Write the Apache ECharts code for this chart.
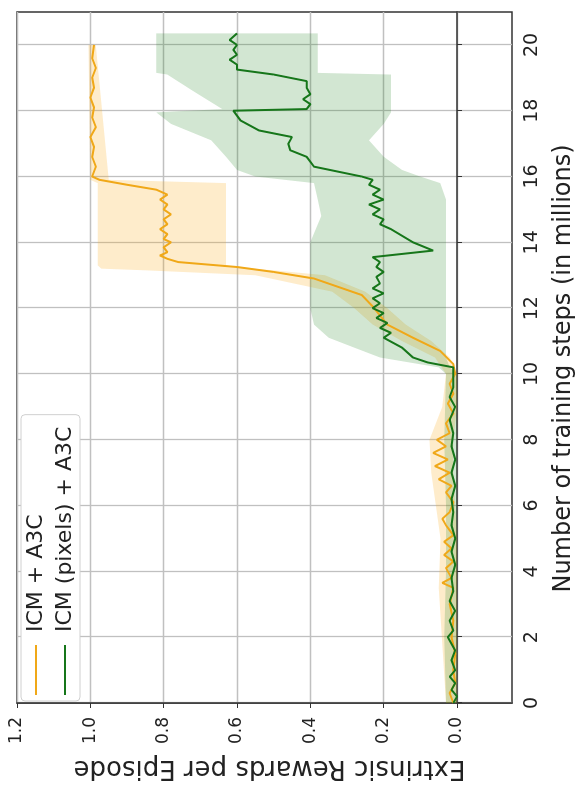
<!DOCTYPE html>
<html>
<head>
<meta charset="utf-8">
<script src="https://cdn.jsdelivr.net/npm/echarts@6/dist/echarts.min.js"></script>
<style>
  html, body { margin: 0; padding: 0; background: #fff; overflow: hidden; }
  /* the figure is drawn landscape and turned a quarter turn counter-clockwise */
  #chart {
    position: absolute; left: 0; top: 0;
    width: 791px; height: 579px;
    transform-origin: 0 0;
    transform: translateY(791px) rotate(-90deg);
  }
</style>
</head>
<body>
<div id="chart"></div>
<script>
// ticks
var xTicks = [0, 2, 4, 6, 8, 10, 12, 14, 16, 18, 20]
var yTicks = [0, 0.2, 0.4, 0.6, 0.8, 1.0, 1.2]

// ICM + A3C : [step (millions), reward]
var icmLine = [
  [0, 0.01], [0.3, 0.02], [0.6, 0.005], [1.0, 0.01], [1.5, 0.005], [2.0, 0.015], [2.5, 0.01],
  [3.0, 0.02], [3.5, 0.01], [3.65, 0.04], [3.8, 0.015], [4.1, 0.03], [4.3, 0.01], [4.5, 0.035],
  [4.7, 0.015], [4.9, 0.035], [5.1, 0.01], [5.4, 0.03], [5.6, 0.04], [5.8, 0.02], [6.1, 0.01],
  [6.4, 0.03], [6.6, 0.015], [6.8, 0.05], [7.0, 0.02], [7.2, 0.06], [7.4, 0.025], [7.6, 0.065],
  [7.8, 0.03], [8.0, 0.055], [8.2, 0.02], [8.5, 0.03], [8.8, 0.01], [9.1, 0.025], [9.4, 0.01],
  [9.7, 0.02], [10.0, 0.005], [10.3, 0.01], [10.7, 0.046], [11.1, 0.12], [11.5, 0.19],
  [12.05, 0.23], [12.4, 0.26], [12.9, 0.39], [13.1, 0.5], [13.25, 0.6], [13.4, 0.76],
  [13.5, 0.79], [13.6, 0.81], [13.7, 0.79], [13.85, 0.8], [14.0, 0.78], [14.1, 0.8],
  [14.25, 0.79], [14.4, 0.81], [14.55, 0.79], [14.7, 0.8], [14.85, 0.78], [15.0, 0.8],
  [15.15, 0.79], [15.3, 0.81], [15.45, 0.79], [15.6, 0.82], [15.75, 0.9], [15.9, 0.975],
  [16.0, 0.995], [16.3, 0.985], [16.6, 0.995], [16.9, 0.99], [17.2, 1.0], [17.5, 0.985],
  [17.8, 0.995], [18.1, 0.99], [18.4, 1.0], [18.7, 0.99], [19.0, 0.995], [19.3, 0.985],
  [19.6, 0.995], [20.0, 0.99]
]
// ICM + A3C band : [step, low, high]
var icmBand = [
  [0, 0.0, 0.03], [3.5, 0.0, 0.05], [5, 0.0, 0.045], [7, 0.01, 0.07], [8, 0.01, 0.075],
  [9, 0.0, 0.04], [10, 0.0, 0.03], [10.5, 0.02, 0.06], [11, 0.07, 0.15], [11.5, 0.14, 0.23],
  [12, 0.19, 0.28], [12.5, 0.25, 0.34], [13.0, 0.36, 0.55], [13.15, 0.5, 0.85],
  [13.2, 0.56, 0.97], [13.3, 0.63, 0.98], [15.8, 0.63, 0.98], [15.9, 0.95, 1.0],
  [20, 0.985, 1.005]
]

// ICM (pixels) + A3C : [step, reward]
var pixLine = [
  [0, 0.01], [0.2, 0.0], [0.4, 0.015], [0.6, 0.005], [0.8, 0.02], [1.0, 0.005], [1.3, 0.015],
  [1.6, 0.005], [1.9, 0.02], [2.0, 0.025], [2.2, 0.01], [2.5, 0.02], [2.8, 0.005], [3.1, 0.02],
  [3.4, 0.01], [3.8, 0.015], [4.2, 0.005], [4.6, 0.015], [5.0, 0.005], [5.4, 0.015], [5.8, 0.01],
  [6.2, 0.015], [6.6, 0.005], [7.0, 0.015], [7.4, 0.005], [7.8, 0.015], [8.2, 0.01], [8.6, 0.02],
  [9.0, 0.005], [9.3, 0.02], [9.6, 0.01], [10.0, 0.01], [10.2, 0.01], [10.35, 0.08],
  [10.5, 0.12], [10.8, 0.15], [11.1, 0.2], [11.25, 0.18], [11.4, 0.21], [11.55, 0.19],
  [11.7, 0.22], [11.85, 0.2], [12.0, 0.23], [12.15, 0.21], [12.3, 0.23], [12.45, 0.2],
  [12.6, 0.23], [12.75, 0.21], [12.95, 0.22], [13.1, 0.2], [13.25, 0.22], [13.4, 0.21],
  [13.55, 0.23], [13.75, 0.065], [14.0, 0.12], [14.4, 0.18], [14.55, 0.21], [14.7, 0.2],
  [14.85, 0.23], [15.0, 0.21], [15.15, 0.24], [15.3, 0.2], [15.45, 0.23], [15.6, 0.21],
  [15.75, 0.24], [15.9, 0.23], [16.0, 0.26], [16.3, 0.39], [16.6, 0.41], [16.8, 0.455],
  [17.0, 0.46], [17.2, 0.45], [17.4, 0.54], [17.7, 0.59], [18.0, 0.61], [18.05, 0.41],
  [18.2, 0.4], [18.35, 0.42], [18.5, 0.4], [18.7, 0.41], [18.9, 0.41], [19.1, 0.5],
  [19.25, 0.6], [19.4, 0.6], [19.55, 0.62], [19.7, 0.6], [19.85, 0.61], [20.0, 0.6],
  [20.15, 0.62], [20.35, 0.6]
]
// ICM (pixels) + A3C band : [step, low, high]
var pixBand = [
  [0, 0.0, 0.03], [2, 0.0, 0.035], [4, 0.0, 0.03], [6, 0.0, 0.03], [8, 0.0, 0.035],
  [10, 0.0, 0.03], [10.2, 0.02, 0.05], [10.5, 0.03, 0.21], [10.8, 0.03, 0.28],
  [11.1, 0.03, 0.35], [11.5, 0.03, 0.39], [12, 0.03, 0.4], [13, 0.03, 0.4], [14, 0.03, 0.4],
  [14.8, 0.03, 0.37], [15.3, 0.03, 0.38], [15.8, 0.046, 0.39], [16.0, 0.1, 0.55],
  [16.2, 0.15, 0.6], [16.6, 0.2, 0.63], [17.1, 0.24, 0.67], [17.6, 0.2, 0.78],
  [17.95, 0.18, 0.82], [18.05, 0.18, 0.64], [18.6, 0.18, 0.72], [19.1, 0.18, 0.79],
  [19.15, 0.38, 0.82], [20.35, 0.38, 0.82]
]

var chart = echarts.init(document.getElementById('chart'))

// shaded min/max band drawn as one polygon through the axis scales
function bandSeries(band, color) {
  return {
    type: 'custom',
    silent: true,
    data: band,
    encode: { x: 0, y: [1, 2] },
    renderItem: function (params, api) {
      if (params.dataIndex !== 0) return
      var top = band.map(function (d) { return api.coord([d[0], d[2]]) })
      var bottom = band.map(function (d) { return api.coord([d[0], d[1]]) }).reverse()
      return {
        type: 'polygon',
        shape: { points: top.concat(bottom) },
        style: { fill: color }
      }
    }
  }
}

var series = [
  bandSeries(icmBand, 'rgba(252,170,20,0.22)'),
  {
    name: 'ICM + A3C',
    type: 'line',
    symbol: 'none',
    lineStyle: { color: '#f0a818', width: 2 },
    itemStyle: { color: '#f0a818' },
    data: icmLine
  },
  bandSeries(pixBand, 'rgba(30,130,30,0.2)'),
  {
    name: 'ICM (pixels) + A3C',
    type: 'line',
    symbol: 'none',
    lineStyle: { color: '#16761a', width: 2 },
    itemStyle: { color: '#16761a' },
    data: pixLine
  }
]

chart.setOption({
  animation: false,
  textStyle: { fontFamily: 'DejaVu Sans' },
  grid: {
    left: 88, right: 12, top: 17, bottom: 67,
    show: true, borderColor: '#333', borderWidth: 1.5,
    outerBoundsMode: 'none'
  },
  legend: {
    orient: 'vertical',
    left: 90, top: 21,
    data: ['ICM + A3C', 'ICM (pixels) + A3C'],
    icon: 'rect',
    backgroundColor: '#fff',
    borderColor: '#d0d0d0', borderWidth: 1, borderRadius: 4,
    padding: [4, 12, 4, 6],
    itemGap: 7, itemWidth: 50, itemHeight: 2,
    textStyle: { fontSize: 22, color: '#222', fontFamily: 'DejaVu Sans', padding: [0, 0, 0, 8] }
  },
  xAxis: {
    type: 'value', min: 0, max: 21,
    name: 'Number of training steps (in millions)',
    nameLocation: 'middle', nameGap: 40,
    nameTextStyle: { fontSize: 24, color: '#222', padding: [0, 22, 0, 0] },
    axisLine: { show: true, lineStyle: { color: '#333', width: 1.5 } },
    axisTick: { show: true, inside: false, length: 5, customValues: xTicks, lineStyle: { color: '#333' } },
    axisLabel: { customValues: xTicks, margin: 11, fontSize: 19, color: '#222' },
    splitLine: { show: true, lineStyle: { color: '#c0c0c0', width: 1.3 } }
  },
  yAxis: {
    type: 'value', min: -0.15, max: 1.2,
    name: 'Extrinsic Rewards per Episode',
    nameLocation: 'middle', nameGap: 51,
    nameTextStyle: { fontSize: 26, color: '#222', padding: [0, 10, 0, 0] },
    axisLine: { show: true, lineStyle: { color: '#333', width: 1.5 } },
    axisTick: { show: true, inside: false, length: 5, customValues: yTicks, lineStyle: { color: '#333' } },
    axisLabel: {
      customValues: yTicks, margin: 14, fontSize: 17, color: '#222',
      formatter: function (v) { return v.toFixed(1) }
    },
    splitLine: { show: true, lineStyle: { color: '#c0c0c0', width: 1.3 } }
  },
  series: series
})
</script>
</body>
</html>
